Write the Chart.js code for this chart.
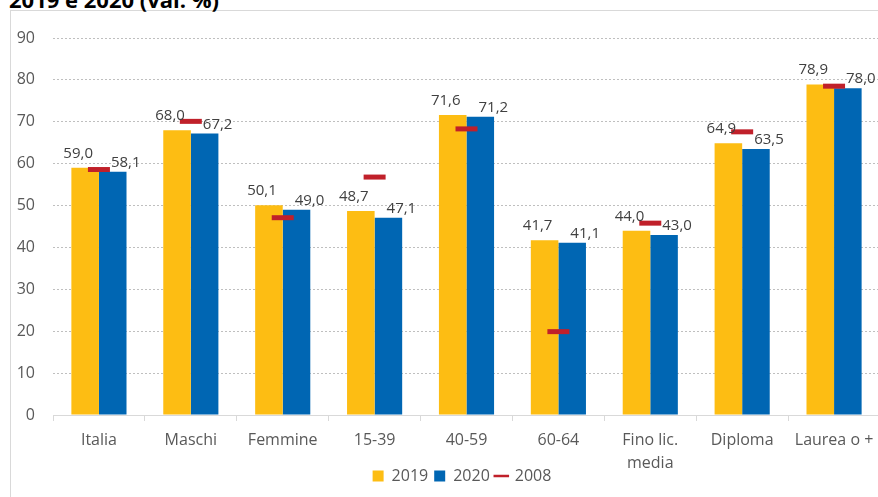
<!DOCTYPE html>
<html>
<head>
<meta charset="utf-8">
<script src="https://cdn.jsdelivr.net/npm/chart.js@4"></script>
<style>
  html, body { margin: 0; padding: 0; background: #fff; overflow: hidden; }
  #wrap { position: relative; width: 878px; height: 497px; overflow: hidden; }
  #frame { position: absolute; left: 10px; top: 10px; width: 900px; height: 500px; border: 1px solid #d9d9d9; }
  #title { position: absolute; left: 9px; top: -16px; line-height: 22px; font: bold 22px "Open Sans", sans-serif; color: #000; white-space: nowrap; }
  #myChart { position: absolute; left: 0; top: 0; }
</style>
</head>
<body>
<div id="wrap">
  <div id="frame"></div>
  <div id="title">2019 e 2020 (val. %)</div>
  <canvas id="myChart" width="896" height="497"></canvas>
</div>
<script>
const categories = ['Italia', 'Maschi', 'Femmine', '15-39', '40-59', '60-64', ['Fino lic.', 'media'], 'Diploma', 'Laurea o +'];
const values2019 = [59.0, 68.0, 50.1, 48.7, 71.6, 41.7, 44.0, 64.9, 78.9];
const values2020 = [58.1, 67.2, 49.0, 47.1, 71.2, 41.1, 43.0, 63.5, 78.0];
const values2008 = [58.6, 70.1, 47.1, 56.8, 68.3, 19.9, 45.8, 67.6, 78.5];
const yTicks = [0, 10, 20, 30, 40, 50, 60, 70, 80, 90];

const fmt = v => v.toFixed(1).replace('.', ',');

// value labels above the two bars, nudged apart like in the source
const barLabels = {
  id: 'barLabels',
  afterDatasetsDraw(chart) {
    const c = chart.ctx;
    c.save();
    c.font = '15px "Open Sans", sans-serif';
    c.fillStyle = '#404040';
    c.textAlign = 'center';
    c.textBaseline = 'alphabetic';
    [0, 1].forEach(i => {
      const meta = chart.getDatasetMeta(i);
      const dx = i === 0 ? -7 : 13;
      const dy = i === 0 ? -10 : -5;
      meta.data.forEach((bar, j) => {
        c.fillText(fmt(chart.data.datasets[i].data[j]), bar.x + dx, bar.y + dy);
      });
    });
    c.restore();
  }
};

// legend sits a bit right of centre and tucked under the axis labels
const legendShift = {
  id: 'legendShift',
  afterLayout(chart) {
    const lg = chart.legend;
    const dy = 478 - (lg.top + lg.bottom) / 2;
    lg.left += 14;
    lg.right += 14;
    lg.top += dy;
    lg.bottom += dy;
  }
};

const ctx = document.getElementById('myChart');
new Chart(ctx, {
  type: 'bar',
  data: {
    labels: categories,
    datasets: [{
      label: '2019',
      data: values2019,
      backgroundColor: '#FDBD13',
      pointStyle: 'rect',
      order: 2
    }, {
      label: '2020',
      data: values2020,
      backgroundColor: '#0066B3',
      pointStyle: 'rect',
      order: 2
    }, {
      label: '2008',
      type: 'line',
      data: values2008,
      showLine: false,
      pointStyle: 'line',
      pointRadius: 11,
      pointHoverRadius: 11,
      borderWidth: 5,
      borderColor: '#C0202A',
      backgroundColor: '#C0202A',
      order: 1
    }]
  },
  options: {
    responsive: false,
    animation: false,
    layout: { padding: { top: 38, right: 0, bottom: -8, left: 0 } },
    datasets: {
      bar: { categoryPercentage: 0.6, barPercentage: 1.0 }
    },
    plugins: {
      legend: {
        position: 'bottom',
        labels: {
          usePointStyle: true,
          boxWidth: 11,
          boxHeight: 11,
          padding: 6,
          color: '#595959',
          font: { family: '"Open Sans", sans-serif', size: 16 },
          sort: (a, b) => a.datasetIndex - b.datasetIndex,
          generateLabels: chart => {
            const items = Chart.defaults.plugins.legend.labels.generateLabels(chart);
            items.forEach(it => { if (it.pointStyle === 'line') it.lineWidth = 2.5; });
            return items;
          }
        }
      },
      tooltip: { enabled: false }
    },
    scales: {
      x: {
        afterFit: s => { s.height = 58; s.paddingRight = 0; },
        grid: { display: true, drawOnChartArea: false, tickLength: 6, color: '#d9d9d9' },
        border: { color: '#d9d9d9', width: 1 },
        ticks: { color: '#595959', padding: 8, font: { family: '"Open Sans", sans-serif', size: 16, lineHeight: 1.45 }, maxRotation: 0, autoSkip: false }
      },
      y: {
        min: 0,
        max: 90,
        afterFit: s => { s.width = 53; },
        afterBuildTicks: s => { s.ticks = yTicks.map(v => ({ value: v })); },
        border: { display: true, width: 0, dash: [2, 2] },
        grid: { color: '#bfbfbf', lineWidth: 1, drawTicks: false },
        ticks: { color: '#595959', padding: 18, font: { family: '"Open Sans", sans-serif', size: 16 } }
      }
    }
  },
  plugins: [barLabels, legendShift]
});
</script>
</body>
</html>
